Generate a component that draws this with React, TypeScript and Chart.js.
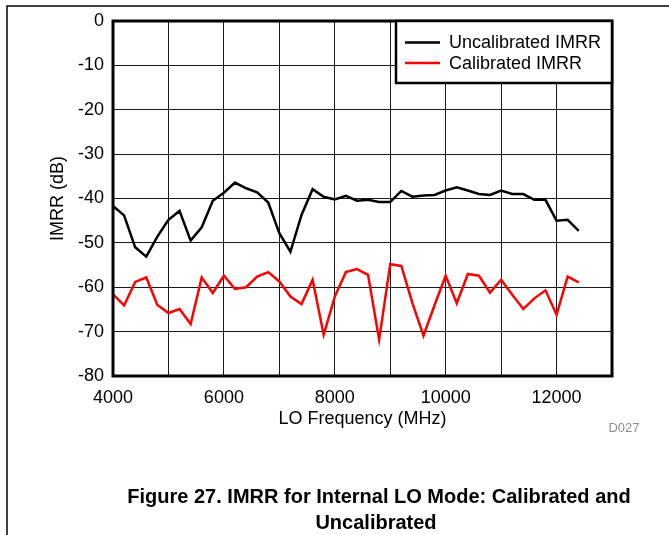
import React, { useEffect, useRef } from "react";
import { Chart, registerables } from "chart.js";

Chart.register(...registerables);

const freqMHz = [
  4000, 4200, 4400, 4600, 4800, 5000, 5200, 5400, 5600, 5800, 6000, 6200, 6400, 6600, 6800,
  7000, 7200, 7400, 7600, 7800, 8000, 8200, 8400, 8600, 8800, 9000, 9200, 9400, 9600, 9800,
  10000, 10200, 10400, 10600, 10800, 11000, 11200, 11400, 11600, 11800, 12000, 12200, 12400,
];

const uncalibratedImrr = [
  -41.7, -43.8, -51.0, -53.1, -48.6, -44.8, -42.8, -49.5, -46.5, -40.5, -38.7, -36.4, -37.7,
  -38.6, -40.9, -47.8, -52.0, -43.7, -37.9, -39.6, -40.2, -39.4, -40.5, -40.3, -40.8, -40.8,
  -38.3, -39.6, -39.3, -39.2, -38.2, -37.5, -38.2, -39.0, -39.2, -38.2, -39.0, -39.0, -40.3,
  -40.3, -45.0, -44.8, -47.3,
];

const calibratedImrr = [
  -61.6, -64.1, -58.8, -57.8, -64.0, -65.8, -64.9, -68.3, -57.8, -61.3, -57.4, -60.4, -60.0,
  -57.6, -56.6, -58.7, -62.1, -63.8, -58.3, -70.7, -62.1, -56.6, -55.9, -57.2, -71.8, -54.8,
  -55.2, -63.6, -70.9, -64.0, -57.4, -63.6, -57.0, -57.4, -61.2, -58.3, -61.7, -64.9, -62.5,
  -60.7, -66.2, -57.6, -58.9,
];

const xLabels = [4000, 6000, 8000, 10000, 12000];
const seriesNames = ["Uncalibrated IMRR", "Calibrated IMRR"];
const seriesColors = ["#000000", "#ff0000"];
const captionLines = ["Figure 27. IMRR for Internal LO Mode: Calibrated and", "Uncalibrated"];
const figureId = "D027";

const FONT = "'Liberation Sans', Arial, Helvetica, sans-serif";

const decorPlugin = {
  id: "decor",
  afterDraw(chart: any) {
    const ctx = chart.ctx;
    const a = chart.chartArea;
    ctx.save();
    // figure frame
    ctx.strokeStyle = "#000";
    ctx.lineWidth = 1.5;
    ctx.beginPath();
    ctx.moveTo(669, 6);
    ctx.lineTo(7, 6);
    ctx.lineTo(7, 535);
    ctx.stroke();

    // plot border
    ctx.lineWidth = 3;
    ctx.strokeRect(a.left, a.top, a.right - a.left, a.bottom - a.top);

    // legend
    const lx = 396;
    const ly = a.top;
    const lw = a.right - lx;
    const lh = 62;
    ctx.fillStyle = "#fff";
    ctx.fillRect(lx, ly, lw, lh);
    ctx.lineWidth = 2.5;
    ctx.strokeStyle = "#000";
    ctx.strokeRect(lx, ly, lw, lh);
    ctx.font = `18px ${FONT}`;
    ctx.textBaseline = "middle";
    ctx.textAlign = "left";
    chart.data.datasets.forEach((ds: any, i: number) => {
      const y = ly + 21.5 + i * 20.5;
      ctx.strokeStyle = ds.borderColor;
      ctx.lineWidth = 2.5;
      ctx.beginPath();
      ctx.moveTo(405, y);
      ctx.lineTo(440, y);
      ctx.stroke();
      ctx.fillStyle = "#000";
      ctx.fillText(ds.label, 449, y + 1);
    });

    // figure id
    ctx.fillStyle = "#8c8c8c";
    ctx.font = `13px ${FONT}`;
    ctx.textAlign = "center";
    ctx.fillText(figureId, 624, 428);

    // caption
    ctx.fillStyle = "#000";
    ctx.font = `bold 20px ${FONT}`;
    ctx.fillText(captionLines[0], 379, 497);
    ctx.fillText(captionLines[1], 376, 523);
    ctx.restore();
  },
};

export default function App() {
  const ref = useRef<HTMLCanvasElement | null>(null);

  useEffect(() => {
    if (!ref.current) return;
    Chart.defaults.font.family = FONT;
    const chart = new Chart(ref.current, {
      type: "line",
      data: {
        datasets: [
          {
            label: seriesNames[0],
            data: freqMHz.map((f, i) => ({ x: f, y: uncalibratedImrr[i] })),
            borderColor: seriesColors[0],
            borderWidth: 2.5,
            pointRadius: 0,
            tension: 0,
            fill: false,
          },
          {
            label: seriesNames[1],
            data: freqMHz.map((f, i) => ({ x: f, y: calibratedImrr[i] })),
            borderColor: seriesColors[1],
            borderWidth: 2.5,
            pointRadius: 0,
            tension: 0,
            fill: false,
          },
        ],
      },
      options: {
        responsive: false,
        animation: false,
        devicePixelRatio: 1,
        layout: { padding: { left: 0, top: 21, right: 57, bottom: 105 } },
        plugins: { legend: { display: false }, tooltip: { enabled: false }, title: { display: false } },
        scales: {
          x: {
            type: "linear",
            min: 4000,
            max: 13000,
            afterFit: (s: any) => {
              s.height = 54;
            },
            ticks: {
              stepSize: 1000,
              autoSkip: false,
              maxRotation: 0,
              padding: 11,
              color: "#000",
              font: { size: 18, family: FONT },
              callback: (v: any) => (xLabels.includes(Number(v)) ? String(v) : ""),
            },
            grid: { color: "#1a1a1a", lineWidth: 1, drawTicks: false },
            border: { display: false },
            title: {
              display: true,
              text: "LO Frequency (MHz)",
              color: "#000",
              font: { size: 18, family: FONT },
              padding: { top: 0, bottom: 0 },
            },
          },
          y: {
            type: "linear",
            min: -80,
            max: 0,
            afterFit: (s: any) => {
              s.width = 113;
            },
            ticks: {
              stepSize: 10,
              autoSkip: false,
              padding: 9,
              color: "#000",
              font: { size: 18, family: FONT },
            },
            grid: { color: "#1a1a1a", lineWidth: 1, drawTicks: false },
            border: { display: false },
            title: {
              display: true,
              text: "IMRR (dB)",
              color: "#000",
              font: { size: 18, family: FONT },
              padding: { top: 47, bottom: 0 },
            },
          },
        },
      },
      plugins: [decorPlugin],
    } as any);
    return () => chart.destroy();
  }, []);

  return (
    <div style={{ position: "absolute", left: 0, top: 0, width: 669, height: 535, background: "#fff" }}>
      <canvas ref={ref} width={669} height={535} style={{ width: 669, height: 535, display: "block" }} />
    </div>
  );
}
